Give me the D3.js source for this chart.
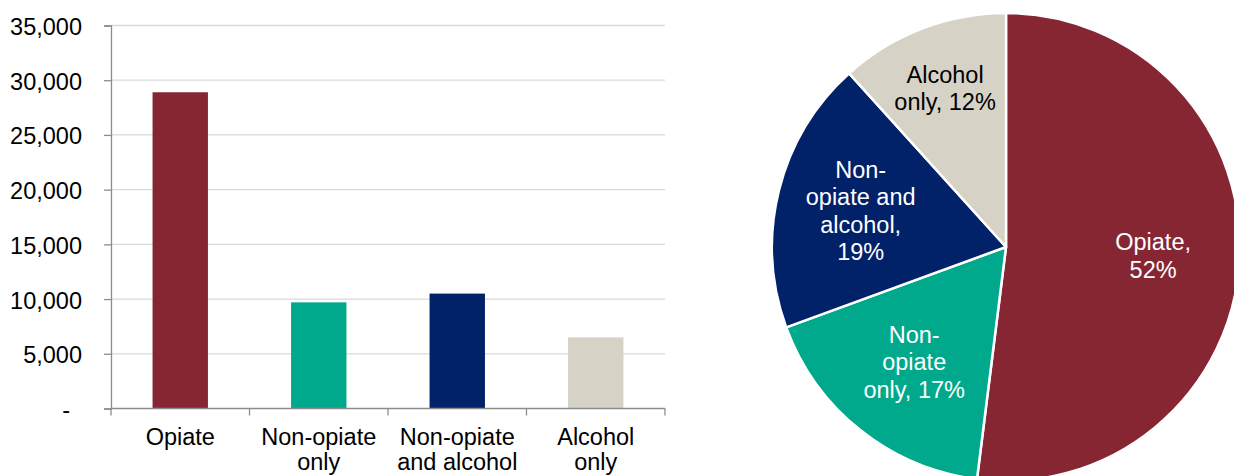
<!DOCTYPE html>
<html>
<head>
<meta charset="utf-8">
<script src="https://cdn.jsdelivr.net/npm/d3@7/dist/d3.min.js"></script>
<style>
  html, body { margin: 0; padding: 0; background: #fff; }
  svg { display: block; font-family: "Liberation Sans", Arial, sans-serif; }
</style>
</head>
<body>
<svg id="chart" width="1234" height="476"></svg>
<script>
// Treatment population by substance group
const categories = ["Opiate", "Non-opiate only", "Non-opiate and alcohol", "Alcohol only"];
const axisLabels = [["Opiate"], ["Non-opiate", "only"], ["Non-opiate", "and alcohol"], ["Alcohol", "only"]];
const counts = [28900, 9700, 10500, 6500];
const pieLabels = [["Opiate,", "52%"], ["Non-", "opiate", "only, 17%"], ["Non-", "opiate and", "alcohol,", "19%"], ["Alcohol", "only, 12%"]];
const yTicks = [0, 5000, 10000, 15000, 20000, 25000, 30000, 35000];
const colors = ["#862633", "#00A88C", "#012169", "#D6D3C6"];
const labelColors = ["#fff", "#fff", "#fff", "#000"];

const svg = d3.select("#chart");
const fontSize = 23.5;

// ---------- Bar chart ----------
const bx0 = 111, bx1 = 665, by0 = 408.5, by1 = 25.5;
const x = d3.scaleBand().domain(categories).range([bx0, bx1]).paddingInner(0.6).paddingOuter(0.3);
const xb = d3.scaleBand().domain(categories).range([bx0, bx1]);
const y = d3.scaleLinear().domain([0, 35000]).range([by0, by1]);

// gridlines
svg.append("g").selectAll("line").data(yTicks.filter(d => d > 0)).join("line")
  .attr("x1", bx0).attr("x2", bx1)
  .attr("y1", d => y(d)).attr("y2", d => y(d))
  .attr("stroke", "#d9d9d9").attr("stroke-width", 1.3);

// bars
svg.append("g").selectAll("rect").data(categories).join("rect")
  .attr("x", d => x(d))
  .attr("width", x.bandwidth())
  .attr("y", (d, i) => y(counts[i]))
  .attr("height", (d, i) => y(0) - y(counts[i]))
  .attr("fill", (d, i) => colors[i]);

// y axis
const yAxis = svg.append("g").attr("transform", `translate(${bx0},0)`)
  .call(d3.axisLeft(y).tickValues(yTicks).tickSize(7).tickPadding(22)
    .tickFormat(d => d === 0 ? "-" : d3.format(",")(d)));
yAxis.select(".domain").attr("stroke", "#8c8c8c").attr("stroke-width", 1.3);
yAxis.selectAll(".tick line").attr("stroke", "#8c8c8c").attr("stroke-width", 1.3);
yAxis.selectAll(".tick text")
  .attr("font-size", fontSize).attr("font-family", "Liberation Sans, Arial, sans-serif")
  .attr("fill", "#000").attr("dy", "0.38em")
  .attr("dx", d => d === 0 ? -12 : 0);

// x axis with ticks at category boundaries
const xAxisG = svg.append("g").attr("transform", `translate(0,${by0})`);
xAxisG.append("line").attr("x1", bx0).attr("x2", bx1).attr("y1", 0).attr("y2", 0)
  .attr("stroke", "#8c8c8c").attr("stroke-width", 1.3);
const bounds = categories.map(c => xb(c)).concat([xb(categories[categories.length - 1]) + xb.bandwidth()]);
xAxisG.selectAll("line.tk").data(bounds).join("line").attr("class", "tk")
  .attr("x1", d => d).attr("x2", d => d).attr("y1", 0).attr("y2", 7)
  .attr("stroke", "#8c8c8c").attr("stroke-width", 1.3);
xAxisG.selectAll("text").data(categories).join("text")
  .attr("x", d => xb(d) + xb.bandwidth() / 2)
  .attr("y", 36.5)
  .attr("text-anchor", "middle")
  .attr("font-size", fontSize).attr("fill", "#000")
  .each(function(d, i) {
    d3.select(this).selectAll("tspan").data(axisLabels[i]).join("tspan")
      .attr("x", xb(d) + xb.bandwidth() / 2)
      .attr("dy", (t, j) => j === 0 ? 0 : 25)
      .text(t => t);
  });

// ---------- Pie chart ----------
const cx = 1006, cy = 247, R = 234;
const pie = d3.pie().sort(null).value(d => d);
const arcs = pie(counts);
const arc = d3.arc().innerRadius(0).outerRadius(R);
const labelRadius = [0.63, 0.63, 0.64, 0.725];

const pg = svg.append("g").attr("transform", `translate(${cx},${cy})`);
pg.selectAll("path").data(arcs).join("path")
  .attr("d", arc)
  .attr("fill", (d, i) => colors[i])
  .attr("stroke", "#fff").attr("stroke-width", 2.5).attr("stroke-linejoin", "round");

const lineH = 27.5;
pg.selectAll("text").data(arcs).join("text")
  .attr("text-anchor", "middle")
  .attr("font-size", fontSize)
  .attr("fill", (d, i) => labelColors[i])
  .each(function(d, i) {
    const rr = R * labelRadius[i];
    const a = (d.startAngle + d.endAngle) / 2;
    const lx = Math.sin(a) * rr, ly = -Math.cos(a) * rr;
    const lines = pieLabels[i];
    const y0 = ly - (lines.length - 1) * lineH / 2 + 8;
    d3.select(this).selectAll("tspan").data(lines).join("tspan")
      .attr("x", lx)
      .attr("y", (t, j) => y0 + j * lineH)
      .text(t => t);
  });
</script>
</body>
</html>
